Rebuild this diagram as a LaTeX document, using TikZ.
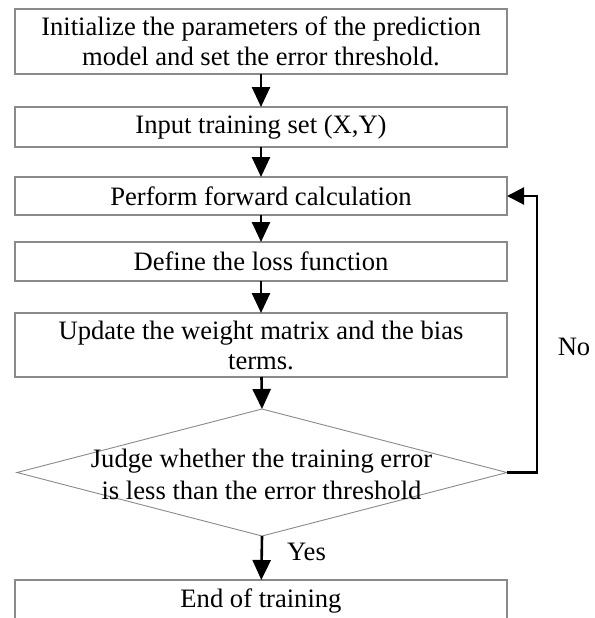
\documentclass[tikz,border=0pt]{standalone}
\usepackage{fontspec}
\setmainfont{Liberation Serif}
\usetikzlibrary{arrows.meta,shapes.geometric}
\definecolor{boxgray}{HTML}{8A8A8A}
\newcommand{\flowfont}{\fontsize{26.6}{30}\selectfont}
\begin{document}
\begin{tikzpicture}[x=1pt,y=-1pt]
\tikzset{
  stepbox/.style={draw=boxgray, line width=1.1pt, minimum width=492pt,
    inner sep=0pt, outer sep=0pt, align=center, font=\flowfont},
  flow/.style={line width=2.6pt, -{Triangle[width=18pt,length=20pt]}},
  looplink/.style={line width=2.2pt, -{Triangle[width=17pt,length=17pt]}},
  tag/.style={font=\flowfont, inner sep=0pt}
}
\useasboundingbox (0,0) rectangle (594,618);
\clip (0,0) rectangle (594,618);

% process steps
\node[stepbox, minimum height=65pt] (init) at (261,41.5)
  {Initialize the parameters of the prediction\\model and set the error threshold.};
\node[stepbox, minimum height=40pt] (input) at (261,127) {Input training set (X,Y)};
\node[stepbox, minimum height=38pt] (fwd) at (261,196) {Perform forward calculation};
\node[stepbox, minimum height=39pt] (loss) at (261,261.5) {Define the loss function};
\node[stepbox, minimum height=64pt] (upd) at (261,345)
  {Update the weight matrix and the bias\\terms.};

% decision
\node[diamond, draw=boxgray, line width=0.9pt, minimum width=490pt,
  minimum height=127pt, inner sep=0pt, outer sep=0pt] (judge) at (262,472.5) {};
\node[tag, align=center, font=\fontsize{26.6}{32}\selectfont] (judgetext) at (261.5,474)
  {Judge whether the training error\\is less than the error threshold};

% final step, its lower edge runs off the page
\node[stepbox, minimum height=42pt] (done) at (261,601) {End of training};

% connectors
\draw[flow] (init) -- (input);
\draw[flow] (input) -- (fwd);
\draw[flow] (fwd) -- (loss);
\draw[flow] (loss) -- (upd);
\draw[flow] (upd) -- (judge.north);
\draw[flow] (judge.south) -- (done);
\coordinate (bend) at (537,472.5);
\draw[looplink] (judge.east) -- (bend) |- (fwd.east);

% branch labels
\node[tag] (nolabel) at (574,347) {No};
\node[tag, anchor=west] (yeslabel) at (287,552) {Yes};
\end{tikzpicture}
\end{document}
